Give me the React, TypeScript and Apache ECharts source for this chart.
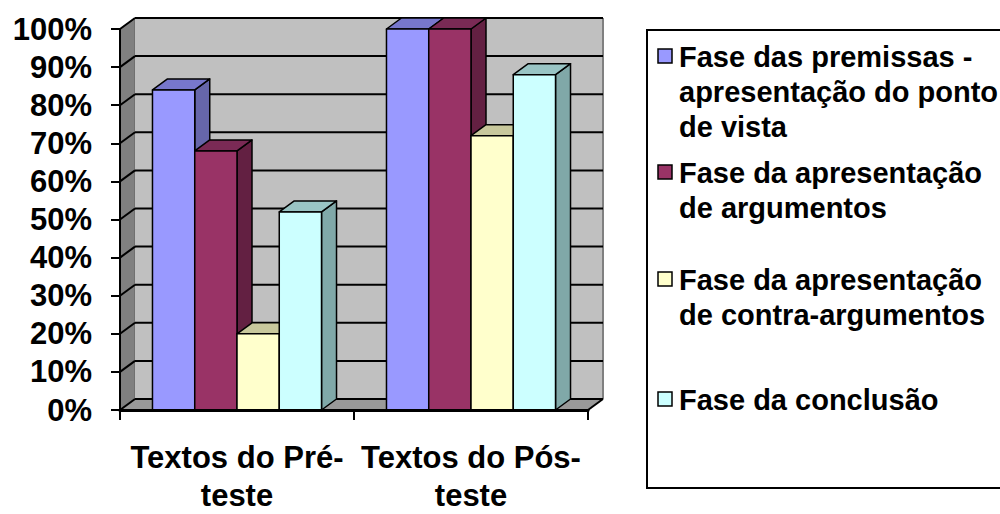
import React, { useEffect, useRef } from "react";
import * as echarts from "echarts";

// ---- data ----
const categories = ["Textos do Pré-teste", "Textos do Pós-teste"];
const phaseNames = [
  "Fase das premissas -\napresentação do ponto\nde vista",
  "Fase da apresentação\nde argumentos",
  "Fase da apresentação\nde contra-argumentos",
  "Fase da conclusão",
];
const premissas = [84, 100];
const argumentos = [68, 100];
const contraArgumentos = [20, 72];
const conclusao = [52, 88];
const seriesValues = [premissas, argumentos, contraArgumentos, conclusao];
const yTicks = [0, 10, 20, 30, 40, 50, 60, 70, 80, 90, 100];

// ---- style ----
const frontColors = ["#9999FF", "#993366", "#FFFFCC", "#CCFFFF"];
const sideColors = ["#6666AA", "#632042", "#AAAA88", "#80A8A8"];
const topColors = ["#7777CC", "#7A2A55", "#C8C89C", "#99C4C4"];
const FONT = "'Liberation Sans', Arial, Helvetica, sans-serif";
const DX = 15;
const DY = -11;
const BAR_FRAC = 0.1806;
const legendTops = [39, 155, 262, 382];

export default function App() {
  const ref = useRef<HTMLDivElement>(null);

  useEffect(() => {
    if (!ref.current) return;
    const chart = echarts.init(ref.current, null, { renderer: "svg" });

    const wallSeries: any = {
      type: "custom",
      name: "walls",
      silent: true,
      z: 1,
      clip: false,
      data: [[0, 0]],
      renderItem: (params: any, api: any) => {
        const cs = params.coordSys;
        const gx = cs.x, gy = cs.y, gw = cs.width, gh = cs.height;
        const children: any[] = [];
        children.push({
          type: "polygon",
          shape: { points: [[gx, gy + gh], [gx, gy], [gx + DX, gy + DY], [gx + DX, gy + gh + DY]] },
          style: { fill: "#808080", stroke: "#606060", lineWidth: 1 },
        });
        children.push({
          type: "rect",
          shape: { x: gx + DX, y: gy + DY, width: gw, height: gh },
          style: { fill: "#C0C0C0" },
        });
        children.push({
          type: "polygon",
          shape: { points: [[gx, gy + gh], [gx + gw, gy + gh], [gx + gw + DX, gy + gh + DY], [gx + DX, gy + gh + DY]] },
          style: { fill: "#999999" },
        });
        children.push({
          type: "line",
          shape: { x1: gx + DX + gw, y1: gy + DY, x2: gx + DX + gw, y2: gy + gh + DY },
          style: { stroke: "#808080", lineWidth: 2 },
        });
        children.push({
          type: "line",
          shape: { x1: gx + gw, y1: gy + gh, x2: gx + gw + DX, y2: gy + gh + DY },
          style: { stroke: "#000", lineWidth: 2 },
        });
        yTicks.forEach((t) => {
          const y = api.coord([0, t])[1];
          children.push({
            type: "line",
            shape: { x1: gx + DX, y1: y + DY, x2: gx + DX + gw, y2: y + DY },
            style: { stroke: "#000", lineWidth: 2 },
          });
          children.push({
            type: "line",
            shape: { x1: gx, y1: y, x2: gx + DX, y2: y + DY },
            style: { stroke: "#000", lineWidth: 2 },
          });
        });
        return { type: "group", children };
      },
    };

    const barSeries = seriesValues.map((vals, idx) => ({
      type: "custom",
      name: phaseNames[idx],
      z: 2,
      clip: false,
      data: vals.map((v, i) => [i, v]),
      renderItem: (_params: any, api: any) => {
        const cat = api.value(0);
        const v = api.value(1);
        const p0 = api.coord([cat, 0]);
        const p1 = api.coord([cat, v]);
        const band = api.size([1, 0])[0];
        const bw = band * BAR_FRAC;
        const x0 = p0[0] - 2 * bw + idx * bw;
        const x1 = x0 + bw;
        const yb = p0[1];
        const yt = p1[1];
        const stroke = { stroke: "#000", lineWidth: 1.5, lineJoin: "round" };
        return {
          type: "group",
          children: [
            {
              type: "polygon",
              shape: { points: [[x1, yt], [x1 + DX, yt + DY], [x1 + DX, yb + DY], [x1, yb]] },
              style: { fill: sideColors[idx], ...stroke },
            },
            {
              type: "polygon",
              shape: { points: [[x0, yt], [x1, yt], [x1 + DX, yt + DY], [x0 + DX, yt + DY]] },
              style: { fill: topColors[idx], ...stroke },
            },
            {
              type: "rect",
              shape: { x: x0, y: yt, width: bw, height: yb - yt },
              style: { fill: frontColors[idx], ...stroke },
            },
          ],
        };
      },
    }));

    const legendGraphics: any[] = [
      {
        type: "rect",
        shape: { x: 647, y: 30, width: 400, height: 458 },
        style: { fill: "#fff", stroke: "#000", lineWidth: 2 },
        z: 0,
      },
    ];
    phaseNames.forEach((name, i) => {
      const top = legendTops[i];
      legendGraphics.push({
        type: "rect",
        shape: { x: 658, y: top + 10, width: 14, height: 14 },
        style: { fill: frontColors[i], stroke: "#000", lineWidth: 1.5 },
        z: 1,
      });
      legendGraphics.push({
        type: "text",
        x: 679,
        y: top,
        z: 1,
        style: {
          text: name,
          fill: "#000",
          fontSize: 29,
          fontWeight: "bold",
          fontFamily: FONT,
          lineHeight: 35,
          verticalAlign: "top",
          align: "left",
        },
      });
    });

    chart.setOption({
      animation: false,
      backgroundColor: "#fff",
      grid: { left: 120, top: 29, width: 468, height: 389, containLabel: false },
      xAxis: {
        type: "category",
        data: categories,
        z: 10,
        axisLine: { show: true, lineStyle: { color: "#000", width: 3 } },
        axisTick: { show: true, alignWithLabel: false, length: 10, lineStyle: { color: "#000", width: 2 } },
        axisLabel: {
          interval: 0,
          margin: 28,
          color: "#000",
          fontSize: 31,
          fontWeight: "bold",
          fontFamily: FONT,
          lineHeight: 38,
          formatter: (v: string) => v.replace("-", "-\n"),
        },
        splitLine: { show: false },
      },
      yAxis: {
        type: "value",
        min: 0,
        max: 100,
        interval: 10,
        z: 10,
        axisLine: { show: true, lineStyle: { color: "#000", width: 2 } },
        axisTick: { show: true, length: 9, lineStyle: { color: "#000", width: 2 } },
        axisLabel: {
          margin: 28,
          color: "#000",
          fontSize: 31,
          fontWeight: "bold",
          fontFamily: FONT,
          formatter: "{value}%",
        },
        splitLine: { show: false },
      },
      graphic: legendGraphics,
      series: [wallSeries, ...barSeries],
    });

    return () => chart.dispose();
  }, []);

  return (
    <div
      ref={ref}
      style={{ position: "fixed", left: 0, top: 0, width: 1000, height: 514, background: "#fff" }}
    />
  );
}
